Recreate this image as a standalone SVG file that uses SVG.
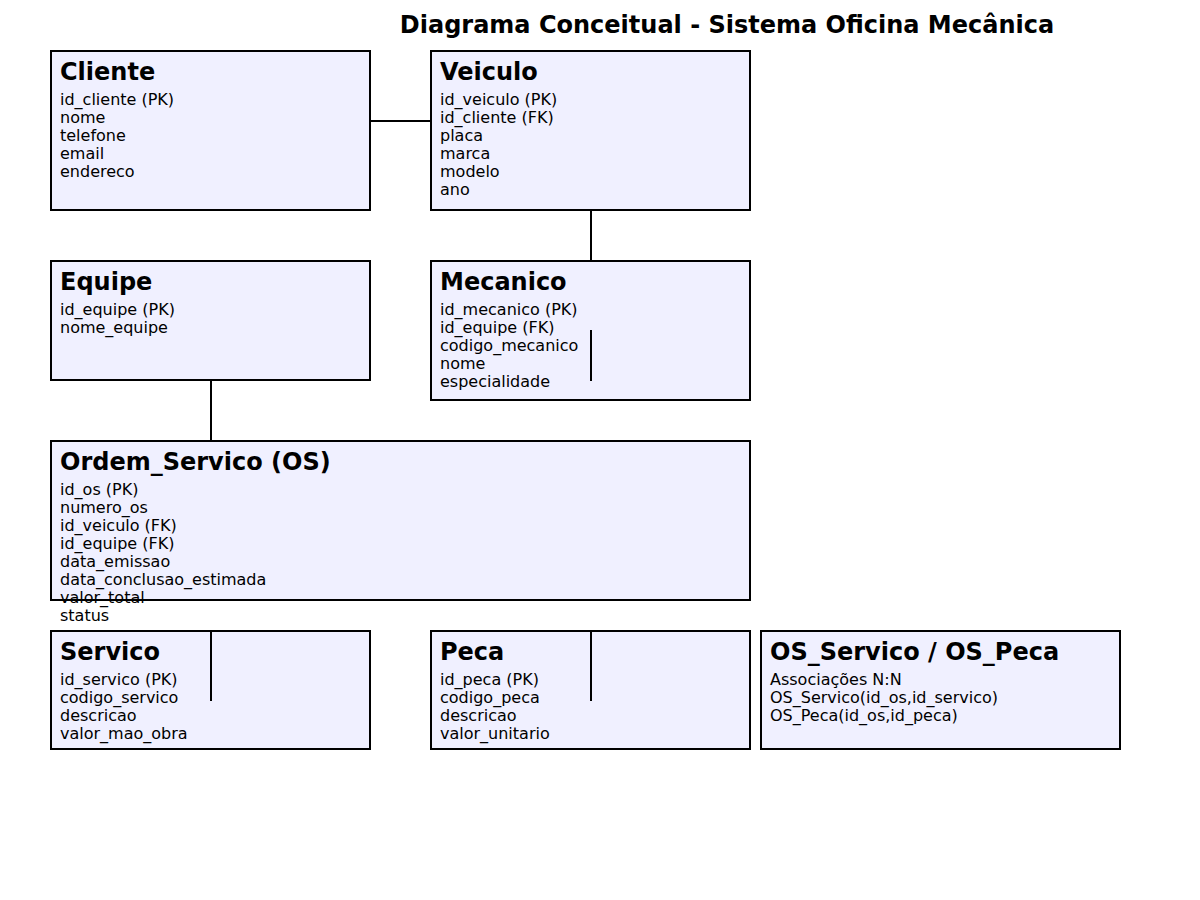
<svg xmlns="http://www.w3.org/2000/svg" width="1200" height="900" viewBox="0 0 1200 900">
<style>
.box{fill:#f0f0ff;stroke:#000;stroke-width:2}
.t{font-family:"DejaVu Sans",sans-serif;font-weight:bold;font-size:24px;fill:#000}
.a{font-family:"DejaVu Sans",sans-serif;font-size:16px;fill:#000}
.c{stroke:#000;stroke-width:2;fill:none}
</style>
<rect width="1200" height="900" fill="#fff"/>
<text x="727" y="33" text-anchor="middle" class="t">Diagrama Conceitual - Sistema Oficina Mecânica</text>
<g id="Cliente">
<rect class="box" x="51" y="51" width="319" height="159"/>
<text class="t" x="60" y="80">Cliente</text>
<text class="a" x="60" y="105">id_cliente (PK)</text>
<text class="a" x="60" y="123">nome</text>
<text class="a" x="60" y="141">telefone</text>
<text class="a" x="60" y="159">email</text>
<text class="a" x="60" y="177">endereco</text>
</g>
<g id="Veiculo">
<rect class="box" x="431" y="51" width="319" height="159"/>
<text class="t" x="440" y="80">Veiculo</text>
<text class="a" x="440" y="105">id_veiculo (PK)</text>
<text class="a" x="440" y="123">id_cliente (FK)</text>
<text class="a" x="440" y="141">placa</text>
<text class="a" x="440" y="159">marca</text>
<text class="a" x="440" y="177">modelo</text>
<text class="a" x="440" y="195">ano</text>
</g>
<g id="Equipe">
<rect class="box" x="51" y="261" width="319" height="119"/>
<text class="t" x="60" y="290">Equipe</text>
<text class="a" x="60" y="315">id_equipe (PK)</text>
<text class="a" x="60" y="333">nome_equipe</text>
</g>
<g id="Mecanico">
<rect class="box" x="431" y="261" width="319" height="139"/>
<text class="t" x="440" y="290">Mecanico</text>
<text class="a" x="440" y="315">id_mecanico (PK)</text>
<text class="a" x="440" y="333">id_equipe (FK)</text>
<text class="a" x="440" y="351">codigo_mecanico</text>
<text class="a" x="440" y="369">nome</text>
<text class="a" x="440" y="387">especialidade</text>
</g>
<g id="OrdemServico">
<rect class="box" x="51" y="441" width="699" height="159"/>
<text class="t" x="60" y="470">Ordem_Servico (OS)</text>
<text class="a" x="60" y="495">id_os (PK)</text>
<text class="a" x="60" y="513">numero_os</text>
<text class="a" x="60" y="531">id_veiculo (FK)</text>
<text class="a" x="60" y="549">id_equipe (FK)</text>
<text class="a" x="60" y="567">data_emissao</text>
<text class="a" x="60" y="585">data_conclusao_estimada</text>
<text class="a" x="60" y="603">valor_total</text>
<text class="a" x="60" y="621">status</text>
</g>
<g id="Servico">
<rect class="box" x="51" y="631" width="319" height="118"/>
<text class="t" x="60" y="660">Servico</text>
<text class="a" x="60" y="685">id_servico (PK)</text>
<text class="a" x="60" y="703">codigo_servico</text>
<text class="a" x="60" y="721">descricao</text>
<text class="a" x="60" y="739">valor_mao_obra</text>
</g>
<g id="Peca">
<rect class="box" x="431" y="631" width="319" height="118"/>
<text class="t" x="440" y="660">Peca</text>
<text class="a" x="440" y="685">id_peca (PK)</text>
<text class="a" x="440" y="703">codigo_peca</text>
<text class="a" x="440" y="721">descricao</text>
<text class="a" x="440" y="739">valor_unitario</text>
</g>
<g id="Associacoes">
<rect class="box" x="761" y="631" width="359" height="118"/>
<text class="t" x="770" y="660">OS_Servico / OS_Peca</text>
<text class="a" x="770" y="685">Associações N:N</text>
<text class="a" x="770" y="703">OS_Servico(id_os,id_servico)</text>
<text class="a" x="770" y="721">OS_Peca(id_os,id_peca)</text>
</g>
<g id="connectors">
<line class="c" x1="370" y1="121" x2="431" y2="121"/>
<line class="c" x1="591" y1="210" x2="591" y2="261"/>
<line class="c" x1="591" y1="330" x2="591" y2="381"/>
<line class="c" x1="211" y1="380" x2="211" y2="441"/>
<line class="c" x1="211" y1="631" x2="211" y2="701"/>
<line class="c" x1="591" y1="631" x2="591" y2="701"/>
</g>
</svg>
